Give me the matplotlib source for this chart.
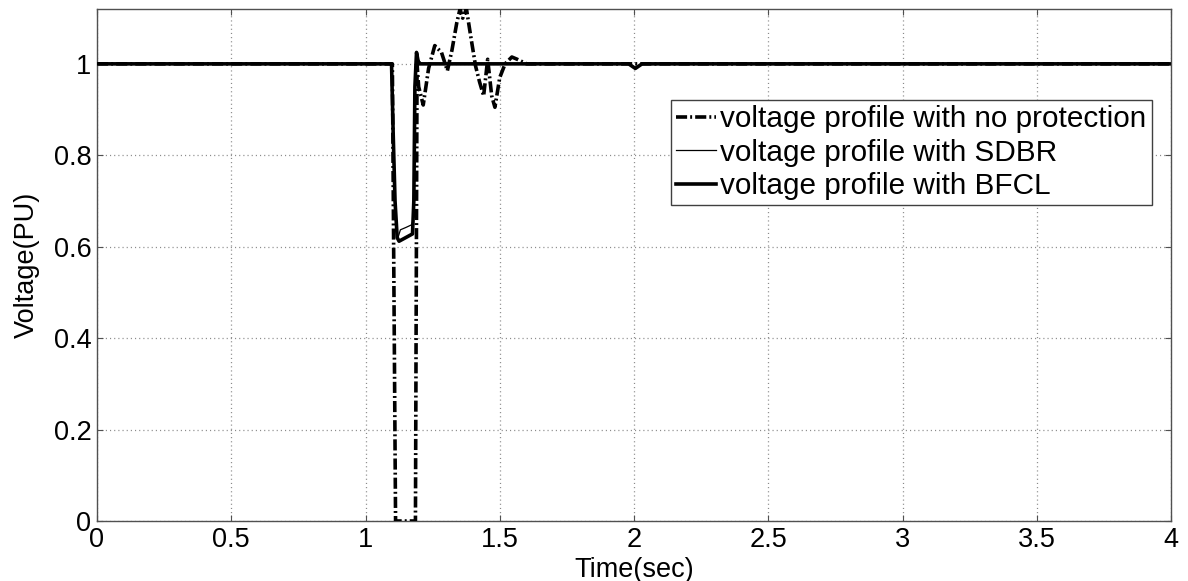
import matplotlib
matplotlib.use("Agg")
import matplotlib.pyplot as plt
from matplotlib.ticker import FixedLocator

plt.rcParams['font.family'] = ['Liberation Sans', 'DejaVu Sans']
plt.rcParams['lines.scale_dashes'] = False

# ---- data ----
t_noprot = [0.0, 1.100, 1.106, 1.112, 1.186, 1.192, 1.198, 1.215, 1.235, 1.258, 1.283,
            1.305, 1.322, 1.340, 1.352, 1.362, 1.376, 1.392, 1.41, 1.425, 1.44, 1.455,
            1.47, 1.482, 1.50, 1.52, 1.545, 1.565, 1.60, 4.0]
v_noprot = [1.0, 1.0, 0.5, 0.0, 0.0, 1.0, 0.95, 0.91, 0.99, 1.04, 1.025,
            0.985, 1.03, 1.09, 1.12, 1.10, 1.12, 1.06, 0.995, 0.96, 0.93, 1.01,
            0.93, 0.905, 0.97, 1.0, 1.015, 1.01, 1.0, 1.0]

t_sdbr = [0.0, 1.097, 1.104, 1.115, 1.12, 1.13, 1.15, 1.172, 1.178, 1.186, 1.195,
          1.21, 1.98, 2.005, 2.03, 4.0]
v_sdbr = [1.0, 1.0, 0.80, 0.64, 0.618, 0.637, 0.642, 0.648, 0.66, 1.0, 1.01,
          1.0, 1.0, 0.992, 1.0, 1.0]

t_bfcl = [0.0, 1.097, 1.103, 1.11, 1.118, 1.125, 1.15, 1.175, 1.180, 1.184, 1.19,
          1.198, 1.21, 1.98, 2.005, 2.03, 4.0]
v_bfcl = [1.0, 1.0, 0.85, 0.70, 0.62, 0.612, 0.62, 0.628, 0.70, 0.95, 1.025,
          1.0, 1.0, 1.0, 0.99, 1.0, 1.0]

x_ticks = [0, 0.5, 1, 1.5, 2, 2.5, 3, 3.5, 4]
x_ticklabels = ["0", "0.5", "1", "1.5", "2", "2.5", "3", "3.5", "4"]
y_ticks = [0, 0.2, 0.4, 0.6, 0.8, 1.0]
y_ticklabels = ["0", "0.2", "0.4", "0.6", "0.8", "1"]

labels = ["voltage profile with no protection",
          "voltage profile with SDBR",
          "voltage profile with BFCL"]

# ---- figure ----
fig = plt.figure(figsize=(11.88, 5.81), dpi=100)
ax = fig.add_axes([97/1188, 60/581, (1171-97)/1188, (521-9)/581])

ax.plot(t_noprot, v_noprot, color='black', lw=2.6,
        linestyle=(0, (8.0, 2.2, 1.4, 2.2)), label=labels[0], zorder=3)
ax.plot(t_sdbr, v_sdbr, color='black', lw=0.9, label=labels[1], zorder=4)
ax.plot(t_bfcl, v_bfcl, color='black', lw=2.6, label=labels[2], zorder=2)

ax.set_xlim(0, 4)
ax.set_ylim(0, 1.12)
ax.xaxis.set_major_locator(FixedLocator(x_ticks))
ax.yaxis.set_major_locator(FixedLocator(y_ticks))
ax.set_xticklabels(x_ticklabels)
ax.set_yticklabels(y_ticklabels)

ax.grid(True, color='#8a8a8a', linestyle=(0, (0.8, 2.2)), lw=0.9)
ax.set_axisbelow(True)
for s in ax.spines.values():
    s.set_color('#505050')
    s.set_linewidth(1.0)
ax.tick_params(direction='in', length=4, width=0.8, colors='#505050',
               top=True, right=True, labelsize=19.5, labelcolor='black', pad=4)

ax.set_xlabel("Time(sec)", fontsize=19.5, labelpad=3)
ax.set_ylabel("Voltage(PU)", fontsize=19.5, labelpad=10)

leg = ax.legend(loc='upper left', bbox_to_anchor=((671-97)/1074, (521-100)/512),
                borderaxespad=0, fontsize=21.4, frameon=True, fancybox=False,
                edgecolor='#404040', framealpha=1, handlelength=1.35,
                handletextpad=0.12, labelspacing=0.18, borderpad=0.18)
leg.get_frame().set_linewidth(1.0)

fig.savefig("out.png", dpi=100)
